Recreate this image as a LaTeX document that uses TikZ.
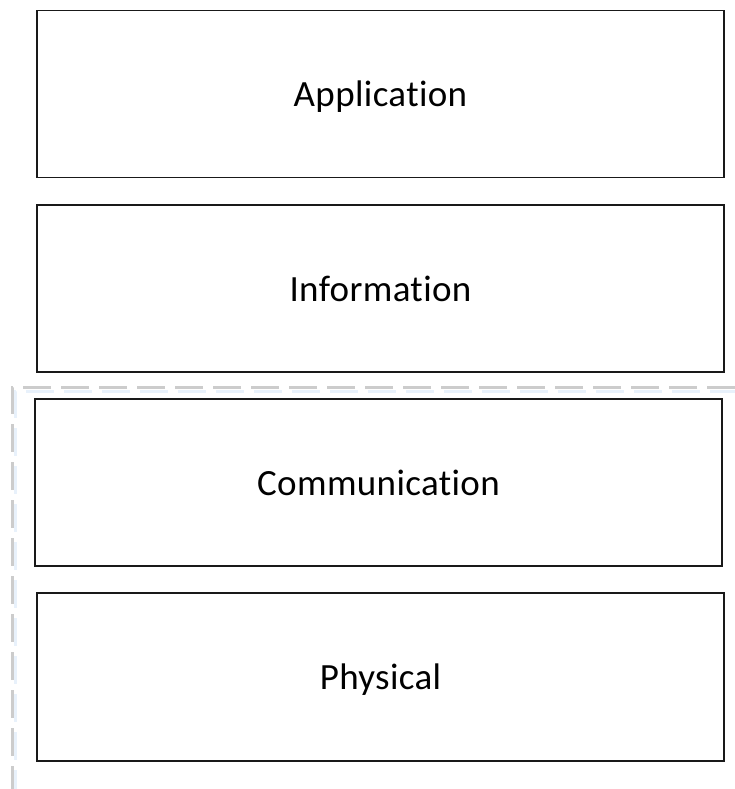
\documentclass[tikz,border=0pt]{standalone}
\usepackage{fontspec}
\setmainfont[Ligatures=NoCommon,LetterSpace=1]{Carlito}
\begin{document}
\begin{tikzpicture}[x=1pt,y=-1pt,
  layer/.style={draw=black!90,line width=1.7pt,fill=white,inner sep=0pt,text height=25pt,text depth=0pt,font=\fontsize{37}{44}\selectfont},
  groupline/.style={draw=black!20,line width=3pt,dash pattern=on 28pt off 10pt},
  groupglow/.style={line width=3pt,dash pattern=on 28pt off 10pt}]
\useasboundingbox (0,0) rectangle (735,789);
\coordinate (gtop) at (735,387);
\coordinate (gcorner) at (12,387);
\coordinate (gbot) at (12,789);
\draw[groupglow,draw={rgb,255:red,232;green,241;blue,251}] ([yshift=-4pt,xshift=3pt]gtop) -- ([yshift=-4pt,xshift=3pt]gcorner) -- ([xshift=3pt]gbot);
\draw[groupline] (gtop) -- (gcorner) -- (gbot);
\node[layer,minimum width=687pt,minimum height=167pt] (app) at (380.5,94) {Application};
\node[layer,minimum width=687pt,minimum height=167pt] (info) at (380.5,288.5) {Information};
\node[layer,minimum width=687pt,minimum height=167pt] (comm) at (378.5,482.5) {Communication};
\node[layer,minimum width=687pt,minimum height=168pt] (phys) at (380.5,677) {Physical};
\end{tikzpicture}
\end{document}
